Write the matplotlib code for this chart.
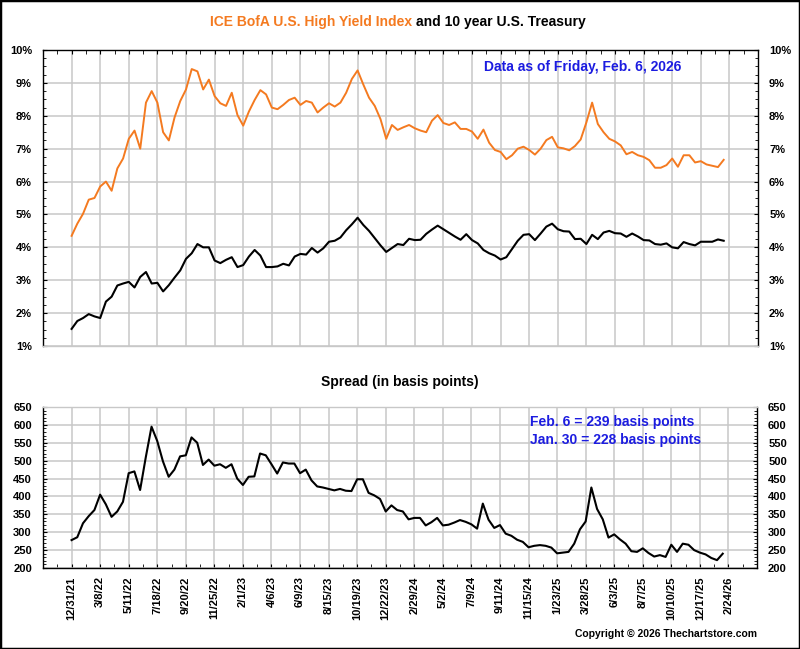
import numpy as np
import matplotlib
matplotlib.use('Agg')
import matplotlib.pyplot as plt
from matplotlib.ticker import MultipleLocator, FuncFormatter
from matplotlib.patches import Rectangle

plt.rcParams['font.family'] = ['Liberation Sans', 'DejaVu Sans']
plt.rcParams['font.weight'] = 'bold'

# x axis labels, one every 45 trading days
dates = ['12/31/21', '3/8/22', '5/11/22', '7/18/22', '9/20/22', '11/25/22',
         '2/1/23', '4/6/23', '6/9/23', '8/15/23', '10/19/23', '12/22/23',
         '2/29/24', '5/2/24', '7/9/24', '9/11/24', '11/15/24', '1/23/25',
         '3/28/25', '6/3/25', '8/7/25', '10/10/25', '12/17/25', '2/24/26']
label_step = 45
sample_step = 9  # trading days between readings below

# ICE BofA U.S. High Yield Index effective yield (%)
hy_yield = [
    4.35, 4.72, 5.02, 5.45, 5.50,
    5.85, 6.00, 5.72, 6.40, 6.70,
    7.30, 7.55, 7.00, 8.40, 8.75,
    8.40, 7.50, 7.25, 7.95, 8.45,
    8.80, 9.42, 9.35, 8.80, 9.10,
    8.60, 8.38, 8.30, 8.70, 8.02,
    7.70, 8.13, 8.48, 8.78, 8.65,
    8.25, 8.20, 8.33, 8.48, 8.55,
    8.33, 8.45, 8.40, 8.10, 8.25,
    8.38, 8.28, 8.40, 8.70, 9.12,
    9.38, 8.95, 8.55, 8.30, 7.90,
    7.30, 7.72, 7.57, 7.65, 7.72,
    7.62, 7.55, 7.50, 7.85, 8.02,
    7.78, 7.72, 7.80, 7.60, 7.60,
    7.52, 7.30, 7.58, 7.18, 6.96,
    6.90, 6.68, 6.80, 7.00, 7.06,
    6.96, 6.82, 7.00, 7.26, 7.36,
    7.04, 7.01, 6.95, 7.08, 7.28,
    7.80, 8.40, 7.75, 7.50, 7.30,
    7.22, 7.10, 6.83, 6.90, 6.80,
    6.75, 6.65, 6.42, 6.42, 6.50,
    6.70, 6.45, 6.80, 6.80, 6.58,
    6.62, 6.52, 6.48, 6.44, 6.66,
]

# 10 year U.S. Treasury yield (%)
ust_yield = [
    1.52, 1.76, 1.85, 1.97, 1.90,
    1.85, 2.35, 2.50, 2.84, 2.90,
    2.95, 2.78, 3.10, 3.25, 2.90,
    2.92, 2.66, 2.85, 3.08, 3.30,
    3.65, 3.82, 4.10, 4.00, 4.00,
    3.60, 3.52, 3.62, 3.70, 3.40,
    3.46, 3.72, 3.92, 3.75, 3.40,
    3.40, 3.42, 3.50, 3.45, 3.72,
    3.80, 3.78, 3.98, 3.84, 3.97,
    4.17, 4.20, 4.30, 4.52, 4.70,
    4.90, 4.68, 4.50, 4.28, 4.06,
    3.86, 3.98, 4.10, 4.07, 4.26,
    4.22, 4.23, 4.41, 4.54, 4.66,
    4.55, 4.44, 4.33, 4.23, 4.40,
    4.22, 4.12, 3.92, 3.82, 3.75,
    3.63, 3.70, 3.95, 4.20, 4.38,
    4.40, 4.22, 4.42, 4.63, 4.72,
    4.55, 4.49, 4.48, 4.25, 4.26,
    4.10, 4.38, 4.25, 4.45, 4.50,
    4.43, 4.42, 4.32, 4.42, 4.33,
    4.22, 4.21, 4.10, 4.08, 4.12,
    4.00, 3.97, 4.16, 4.10, 4.06,
    4.17, 4.17, 4.17, 4.24, 4.20,
]

# spread in basis points
spread_bp = [
    278, 286, 325, 345, 362,
    405, 378, 343, 358, 385,
    465, 470, 418, 510, 595,
    555, 498, 455, 475, 512,
    515, 565, 550, 488, 503,
    486, 490, 480, 490, 450,
    432, 455, 456, 520, 515,
    490, 464, 495, 492, 492,
    465, 475, 445, 428, 425,
    421, 417, 421, 416, 415,
    448, 448, 410, 403, 393,
    358, 375, 362, 358, 336,
    340, 340, 319, 328, 340,
    319, 321, 327, 334, 329,
    322, 310, 380, 335, 312,
    320, 296, 290, 279, 273,
    258, 262, 264, 262, 257,
    241, 243, 245, 268, 308,
    330, 425, 365, 336, 285,
    294, 280, 268, 247, 245,
    255, 242, 232, 236, 231,
    265, 245, 268, 265, 250,
    243, 238, 228, 222, 240,
]

orange = '#f47a20'
blue = '#1c1ce0'
grid_c = '#c8c8c8'

x = np.arange(len(hy_yield)) * sample_step
xticks = np.arange(len(dates)) * label_step
xlim = (-label_step, xticks[-1] + label_step)


def style_axis(ax, ymin, ymax, major, minor, top_panel):
    ax.set_xlim(*xlim)
    ax.set_ylim(ymin, ymax)
    ax.set_xticks(xticks)
    ax.xaxis.set_minor_locator(MultipleLocator(label_step / 2))
    ax.yaxis.set_major_locator(MultipleLocator(major))
    ax.yaxis.set_minor_locator(MultipleLocator(minor))
    ax.set_axisbelow(True)
    ax.grid(True, which='major', color=grid_c, lw=1.1)
    for side in ['left', 'right', 'top', 'bottom']:
        ax.spines[side].set_linewidth(1.0)
    ax.tick_params(axis='y', which='both', direction='in', left=True, right=True,
                   labelleft=True, labelright=True, labelsize=8, pad=8)
    ax.tick_params(axis='y', which='major', length=3)
    ax.tick_params(axis='y', which='minor', length=2.5)
    if top_panel:
        ax.spines['bottom'].set_color(grid_c)
        ax.tick_params(axis='x', which='both', direction='in', top=True, bottom=False,
                       labelbottom=False, length=3)
    else:
        ax.spines['top'].set_color(grid_c)
        ax.tick_params(axis='x', which='both', direction='in', top=False, bottom=True,
                       length=3)


fig = plt.figure(figsize=(8, 6.49), dpi=100)

ax1 = fig.add_axes([43 / 800, 1 - 346 / 649, 715 / 800, 296 / 649])
ax1.plot(x, hy_yield, color=orange, lw=1.4)
ax1.plot(x, ust_yield, color='black', lw=1.5)
style_axis(ax1, 1, 10, 1, 0.25, True)
ax1.yaxis.set_major_formatter(FuncFormatter(lambda v, p: '{:.0f}%'.format(v)))

ax2 = fig.add_axes([43 / 800, 1 - 568 / 649, 714 / 800, 161 / 649])
ax2.plot(x, spread_bp, color='black', lw=1.5)
style_axis(ax2, 200, 650, 50, 10, False)
ax2.set_xticklabels(dates, rotation=90, fontsize=8)
ax2.tick_params(axis='x', which='major', pad=6)

# titles and notes
fig.text(412 / 800, 1 - 22 / 649, 'ICE BofA U.S. High Yield Index', ha='right', va='center',
         color=orange, fontsize=10, fontweight='bold')
fig.text(416 / 800, 1 - 22 / 649, 'and 10 year U.S. Treasury', ha='left', va='center',
         color='black', fontsize=10, fontweight='bold')
fig.text(484 / 800, 1 - 67 / 649, 'Data as of Friday, Feb. 6, 2026', ha='left', va='center',
         color=blue, fontsize=10, fontweight='bold')
fig.text(400 / 800, 1 - 382 / 649, 'Spread (in basis points)', ha='center', va='center',
         color='black', fontsize=10, fontweight='bold')
fig.text(530 / 800, 1 - 422 / 649, 'Feb. 6 = 239 basis points', ha='left', va='center',
         color=blue, fontsize=10, fontweight='bold')
fig.text(530 / 800, 1 - 440 / 649, 'Jan. 30 = 228 basis points', ha='left', va='center',
         color=blue, fontsize=10, fontweight='bold')
fig.text(757 / 800, 1 - 634 / 649, 'Copyright \u00a9 2026 Thechartstore.com', ha='right',
         va='center', color='black', fontsize=7.5, fontweight='bold')

fig.patches.append(Rectangle((0, 0), 1, 1, transform=fig.transFigure, fill=False,
                             ec='black', lw=2.5))

fig.savefig('out.png', dpi=100)
